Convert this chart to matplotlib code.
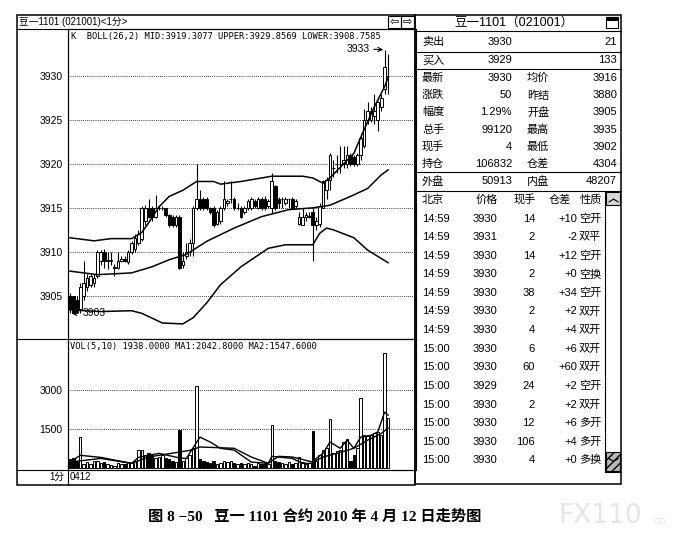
import matplotlib.pyplot as plt
from matplotlib.lines import Line2D
from matplotlib.patches import Rectangle

plt.rcParams['font.family'] = ['Liberation Sans', 'Noto Sans CJK SC']

W, H = 678, 533

# 1-minute bars, 豆一1101, 2010-04-12
opens = [3905.0, 3905.0, 3904.5, 3903.5, 3905.0, 3906.0, 3906.2, 3906.5, 3907.3, 3909.0,
         3910.0, 3909.0, 3909.0, 3908.2, 3908.2, 3909.0, 3909.2, 3908.8, 3910.0, 3910.3,
         3911.0, 3911.5, 3913.5, 3915.0, 3915.0, 3914.0, 3915.0, 3915.0, 3915.0, 3914.2,
         3914.0, 3913.0, 3914.0, 3908.5, 3909.5, 3910.0, 3911.0, 3915.0, 3916.0, 3916.0,
         3916.0, 3915.0, 3915.0, 3913.2, 3913.5, 3915.0, 3915.5, 3916.0, 3916.0, 3915.0,
         3915.0, 3914.5, 3915.0, 3915.0, 3915.8, 3915.0, 3916.0, 3916.0, 3915.2, 3915.0,
         3917.5, 3916.0, 3916.0, 3915.5, 3916.0, 3916.0, 3915.2, 3913.2, 3913.0, 3914.0,
         3914.0, 3914.5, 3913.0, 3913.2, 3915.0, 3917.0, 3918.2, 3919.5, 3920.0, 3920.0,
         3920.0, 3920.0, 3921.0, 3920.8, 3920.0, 3921.0, 3922.0, 3925.0, 3925.0, 3925.5,
         3925.0, 3926.5, 3928.5, 3930.0]
highs = [3905.3, 3905.0, 3905.0, 3906.5, 3909.0, 3907.5, 3907.5, 3907.5, 3910.2, 3910.2,
         3910.3, 3910.0, 3910.0, 3908.6, 3910.0, 3909.5, 3909.5, 3910.2, 3911.2, 3912.0,
         3912.5, 3915.2, 3915.3, 3916.0, 3915.2, 3916.5, 3915.2, 3915.2, 3915.0, 3914.3,
         3914.2, 3914.2, 3914.2, 3910.0, 3911.0, 3911.5, 3915.2, 3920.0, 3917.0, 3916.2,
         3916.2, 3915.1, 3915.2, 3914.8, 3915.2, 3918.0, 3916.0, 3918.0, 3916.2, 3915.5,
         3915.2, 3915.2, 3916.0, 3916.2, 3916.0, 3916.2, 3916.2, 3916.3, 3916.0, 3919.0,
         3917.6, 3916.2, 3916.2, 3916.2, 3916.1, 3916.2, 3916.0, 3914.5, 3915.0, 3914.5,
         3914.5, 3915.0, 3914.0, 3915.5, 3918.2, 3918.5, 3921.2, 3920.5, 3921.0, 3922.0,
         3922.0, 3922.0, 3921.2, 3921.0, 3921.2, 3923.5, 3926.3, 3927.0, 3926.5, 3928.0,
         3927.2, 3928.0, 3933.0, 3932.5]
lows = [3903.0, 3903.0, 3903.0, 3903.0, 3904.5, 3905.5, 3906.0, 3906.0, 3907.0, 3908.5,
        3908.2, 3908.0, 3908.5, 3907.3, 3908.0, 3908.8, 3908.8, 3908.6, 3909.8, 3910.0,
        3910.8, 3911.2, 3913.0, 3913.8, 3913.5, 3913.8, 3914.8, 3914.8, 3914.0, 3912.8,
        3912.8, 3912.8, 3908.0, 3908.2, 3909.2, 3909.5, 3909.5, 3914.8, 3914.8, 3914.8,
        3914.8, 3914.3, 3912.8, 3913.0, 3913.2, 3914.8, 3915.2, 3915.5, 3914.8, 3914.8,
        3913.8, 3914.3, 3914.8, 3914.8, 3915.0, 3914.9, 3914.8, 3914.8, 3915.0, 3914.4,
        3914.8, 3915.0, 3915.0, 3915.3, 3915.0, 3915.0, 3915.0, 3913.0, 3913.0, 3913.5,
        3913.8, 3909.0, 3912.5, 3912.8, 3915.0, 3916.0, 3917.0, 3918.5, 3919.0, 3919.0,
        3919.5, 3919.5, 3919.8, 3919.8, 3919.8, 3920.5, 3921.8, 3924.5, 3924.8, 3924.5,
        3923.8, 3926.0, 3928.0, 3928.0]
closes = [3903.5, 3903.0, 3903.2, 3906.0, 3906.5, 3907.0, 3907.2, 3907.0, 3910.0, 3910.0,
          3909.0, 3909.0, 3909.0, 3908.2, 3909.0, 3909.2, 3909.0, 3910.0, 3911.0, 3911.6,
          3912.0, 3915.0, 3915.0, 3914.0, 3914.0, 3915.0, 3915.0, 3915.0, 3914.2, 3913.0,
          3913.0, 3914.0, 3908.2, 3909.0, 3910.0, 3911.0, 3915.0, 3916.0, 3915.0, 3915.0,
          3915.0, 3914.5, 3913.0, 3914.5, 3915.0, 3916.0, 3915.8, 3916.0, 3915.0, 3915.0,
          3914.0, 3915.0, 3915.8, 3916.0, 3915.2, 3916.0, 3915.0, 3915.0, 3915.8, 3918.0,
          3915.0, 3915.5, 3916.0, 3916.0, 3916.0, 3915.0, 3915.8, 3914.0, 3914.0, 3914.2,
          3914.0, 3913.0, 3913.5, 3915.2, 3918.0, 3918.2, 3921.0, 3919.5, 3920.0, 3920.0,
          3920.5, 3921.0, 3920.0, 3920.0, 3921.0, 3923.0, 3925.0, 3926.0, 3926.0, 3926.0,
          3927.0, 3927.5, 3931.0, 3930.0]
volumes = [350, 380, 300, 1200, 150, 250, 150, 300, 300, 200,
           250, 150, 120, 100, 200, 150, 180, 250, 200, 300,
           700, 700, 500, 600, 550, 400, 450, 500, 400, 350,
           300, 250, 1460, 300, 400, 500, 800, 3165, 350, 300,
           250, 200, 300, 150, 200, 300, 250, 300, 200, 150,
           200, 150, 200, 150, 100, 200, 150, 200, 150, 1650,
           300, 250, 200, 150, 250, 150, 200, 450, 250, 150,
           200, 1435, 300, 500, 700, 800, 1880, 600, 650, 700,
           1000, 1115, 300, 500, 800, 2700, 1270, 1250, 1300, 1350,
           1400, 1300, 4435, 1938]

# BOLL(26,2) lines, read at a few bars
upper_at = [0, 7, 12, 18, 21, 23, 26, 29, 33, 37, 42, 44, 50, 59, 68, 71, 74, 76, 83, 86, 89, 92, 93]
upper = [3911.6, 3911.25, 3911.5, 3911.5, 3912.2, 3913.3, 3915.1, 3916.3, 3917.0, 3918.0, 3918.0,
         3917.7, 3918.0, 3918.6, 3918.6, 3918.4, 3917.8, 3918.4, 3921.2, 3923.9, 3926.5, 3928.8, 3929.86]
mid_at = [0, 8, 18, 24, 29, 34, 40, 48, 56, 64, 71, 76, 82, 87, 91, 93]
mid = [3907.8, 3907.4, 3907.6, 3908.3, 3909.1, 3909.7, 3911.2, 3912.7, 3914.0, 3914.8, 3915.0,
       3915.3, 3916.3, 3917.2, 3918.75, 3919.31]
lower_at = [0, 9, 18, 21, 27, 33, 36, 40, 44, 50, 58, 63, 71, 73, 75, 77, 83, 87, 93]
lower = [3903.4, 3903.2, 3903.3, 3903.0, 3901.9, 3901.8, 3902.5, 3904.2, 3906.25, 3908.3, 3910.4,
         3910.8, 3910.8, 3912.1, 3912.7, 3912.5, 3911.6, 3910.2, 3908.76]

# volume MA5 / MA10
ma1_at = [0, 3, 9, 18, 20, 26, 32, 34, 38, 41, 44, 48, 53, 58, 59, 65, 68, 71, 72, 74, 76, 79, 81,
          83, 85, 88, 90, 92, 93]
ma1 = [240, 500, 420, 190, 420, 575, 400, 380, 1200, 1010, 770, 700, 240, 190, 460, 380, 190, 190,
       380, 575, 1010, 770, 1080, 770, 1200, 1270, 1400, 2165, 2043]
ma2_at = [0, 9, 18, 23, 35, 38, 48, 53, 58, 61, 65, 71, 74, 78, 83, 87, 91, 93]
ma2 = [240, 380, 190, 435, 690, 820, 770, 435, 190, 460, 435, 240, 435, 575, 770, 1080, 1340, 1548]

price_ticks = [3905, 3910, 3915, 3920, 3925, 3930]
vol_ticks = [1500, 3000]

# quote board on the right
quote_rows = [('卖出', '3930', '21'), ('买入', '3929', '133')]
stat_l = ['最新', '涨跌', '幅度', '总手', '现手', '持仓']
stat_lv = ['3930', '50', '1.29%', '99120', '4', '106832']
stat_r = ['均价', '昨结', '开盘', '最高', '最低', '仓差']
stat_rv = ['3916', '3880', '3905', '3935', '3902', '4304']
tick_time = ['14:59'] * 7 + ['15:00'] * 7
tick_price = [3930, 3931, 3930, 3930, 3930, 3930, 3930, 3930, 3930, 3929, 3930, 3930, 3930, 3930]
tick_vol = [14, 2, 14, 2, 38, 2, 4, 6, 60, 24, 2, 12, 106, 4]
tick_oi = ['+10', '-2', '+12', '+0', '+34', '+2', '+4', '+6', '+60', '+2', '+2', '+6', '+4', '+0']
tick_kind = ['空开', '双平', '空开', '空换', '空开', '双开', '双开', '双开', '双开', '空开',
             '双开', '多开', '多开', '多换']

fig = plt.figure(figsize=(W / 100, H / 100), dpi=100)


def hline(y, x0, x1, lw=0.8):
    fig.add_artist(Line2D([x0 / W, x1 / W], [1 - y / H, 1 - y / H], color='black', lw=lw))


def vline(x, y0, y1, lw=0.8):
    fig.add_artist(Line2D([x / W, x / W], [1 - y0 / H, 1 - y1 / H], color='black', lw=lw))


def txt(x, y, s, **kw):
    kw.setdefault('va', 'center')
    kw.setdefault('fontsize', 8)
    fig.text(x / W, 1 - y / H, s, **kw)


def box(x0, y0, x1, y1, **kw):
    kw.setdefault('fill', False)
    kw.setdefault('lw', 0.8)
    fig.add_artist(Rectangle((x0 / W, 1 - y1 / H), (x1 - x0) / W, (y1 - y0) / H,
                             transform=fig.transFigure, edgecolor='black', **kw))


step = 3.42
xl = (-2 / step, 346 / step)
n = len(opens)
up = [closes[i] >= opens[i] for i in range(n)]

# price panel
ax = fig.add_axes([68 / W, 1 - 339 / H, 348 / W, 310 / H])
for i in range(n):
    ax.vlines(i, lows[i], highs[i], color='black', lw=0.8, zorder=2)
    lo = min(opens[i], closes[i])
    hgt = max(abs(closes[i] - opens[i]), 0.04)
    ax.bar(i, hgt, bottom=lo, width=0.78, facecolor='white' if up[i] else 'black',
           edgecolor='black', lw=0.7, zorder=3)
ax.plot(upper_at, upper, color='black', lw=1.1, zorder=4)
ax.plot(mid_at, mid, color='black', lw=1.1, zorder=4)
ax.plot(lower_at, lower, color='black', lw=1.1, zorder=4)
ax.annotate('3933', xy=(91.6, 3933.0), xytext=(87.6, 3933.1), ha='right', va='center',
            fontsize=7.5, arrowprops=dict(arrowstyle='->', lw=0.8, shrinkA=1, shrinkB=0))
ax.annotate('3903', xy=(0.4, 3903.0), xytext=(3.6, 3903.0), ha='left', va='center',
            fontsize=7.5, arrowprops=dict(arrowstyle='->', lw=0.8, shrinkA=1, shrinkB=0))
ax.set_xlim(*xl)
ax.set_ylim(3900.08, 3935.35)
ax.set_yticks(price_ticks)
ax.set_xticks([])
ax.tick_params(axis='y', length=0, pad=4, labelsize=7.5)
ax.grid(axis='y', color='black', lw=0.6, linestyle=(0, (1, 1.5)))
ax.set_axisbelow(True)
for s in ax.spines.values():
    s.set_linewidth(0.8)

# volume panel
av = fig.add_axes([68 / W, 1 - 470 / H, 348 / W, 131 / H])
av.bar(range(n), volumes, width=0.72, color=['white' if u else 'black' for u in up],
       edgecolor='black', lw=0.7, zorder=3)
av.plot(ma1_at, ma1, color='black', lw=1.0, zorder=4)
av.plot(ma2_at, ma2, color='black', lw=1.0, zorder=4)
av.set_xlim(*xl)
av.set_ylim(-65, 4973)
av.set_yticks(vol_ticks)
av.set_xticks([])
av.tick_params(axis='y', length=0, pad=4, labelsize=7.5)
av.grid(axis='y', color='black', lw=0.6, linestyle=(0, (1, 1.5)))
av.set_axisbelow(True)
for s in av.spines.values():
    s.set_linewidth(0.8)

mono = dict(family='DejaVu Sans Mono', fontsize=6.3)
txt(71, 36, 'K  BOLL(26,2) MID:3919.3077 UPPER:3929.8569 LOWER:3908.7585', **mono)
txt(70, 346, 'VOL(5,10) 1938.0000 MA1:2042.8000 MA2:1547.6000', **mono)

# left window frame
box(17, 15, 415, 485, lw=1.1)
hline(29, 17, 415)
hline(339, 17, 415)
hline(470, 17, 415)
vline(68, 29, 485)
txt(19, 22, '豆一1101 (021001)<1分>', fontsize=7)
box(388, 16, 401, 28)
box(401, 16, 414, 28)
txt(394.5, 22, '⇦', fontsize=8, ha='center', family='DejaVu Sans')
txt(407.5, 22, '⇨', fontsize=8, ha='center', family='DejaVu Sans')
txt(64, 477, '1分', fontsize=7, ha='right')
txt(70, 477, '0412', fontsize=7)

# right quote board
box(415, 15, 621, 484, lw=1.1)
for y in (31, 51.5, 69, 172, 190.5):
    hline(y, 415, 621)
txt(514, 23, '豆一1101（021001）', fontsize=9, ha='center')
box(606, 17, 618, 28)
box(607, 17.5, 617, 20, fill=True, facecolor='black')

for k, (lab, v1, v2) in enumerate(quote_rows):
    y = 41.7 + 18.7 * k
    txt(422, y, lab)
    txt(512, y, v1, ha='right')
    txt(617, y, v2, ha='right')
for k in range(len(stat_l)):
    y = 78 + 17.2 * k
    txt(422, y, stat_l[k])
    txt(512, y, stat_lv[k], ha='right')
    txt(527, y, stat_r[k])
    txt(617, y, stat_rv[k], ha='right')
txt(422, 181.5, '外盘')
txt(512, 181.5, '50913', ha='right')
txt(527, 181.5, '内盘')
txt(617, 181.5, '48207', ha='right')

txt(422, 200, '北京')
txt(487, 200, '价格', ha='center')
txt(525, 200, '现手', ha='center')
txt(560, 200, '仓差', ha='center')
txt(591, 200, '性质', ha='center')
for k in range(len(tick_time)):
    y = 218.5 + 18.6 * k
    txt(422, y, tick_time[k])
    txt(497, y, str(tick_price[k]), ha='right')
    txt(535, y, str(tick_vol[k]), ha='right')
    txt(577, y, tick_oi[k], ha='right')
    txt(579, y, tick_kind[k])

# scroll bar
vline(605, 190.5, 472)
hline(472, 605, 621)
box(606, 192, 620, 205, fill=True, facecolor='#d8d8d8')
txt(613, 199, '︿', fontsize=8, ha='center', family='Noto Sans CJK SC', weight='bold')
box(606, 452, 620, 471, fill=True, facecolor='#b8b8b8', hatch='////')
txt(613, 463, '﹀', fontsize=8, ha='center', family='Noto Sans CJK SC', weight='bold')

# caption and watermark
txt(315, 517, '图 8 −50   豆一 1101 合约 2010 年 4 月 12 日走势图', fontsize=11, ha='center',
    weight='bold', family=['Liberation Serif', 'Noto Sans CJK SC'])
txt(600, 516, 'FX110', fontsize=19, ha='center', color='#e6e6e6', family='DejaVu Sans')
txt(651, 521, '.cn', fontsize=7, color='#e6e6e6', family='DejaVu Sans')

fig.savefig('out.png', dpi=100)
